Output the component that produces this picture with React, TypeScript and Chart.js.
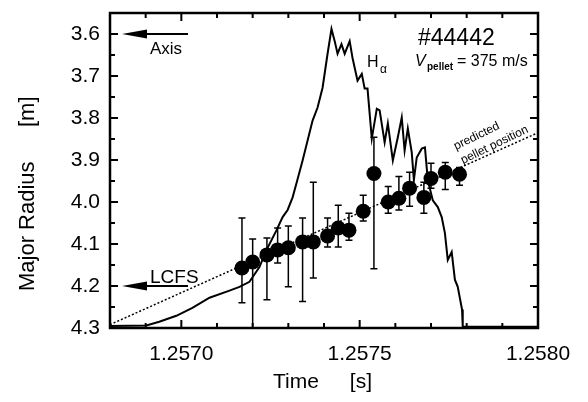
import { useEffect, useRef } from 'react';
import { Chart, registerables } from 'chart.js';

Chart.register(...registerables);

const FONT = '"Liberation Sans", Arial, Helvetica, sans-serif';

// H-alpha trace (time [s], plotted on the radius axis scale)
const hAlphaTime = [
  1.2568, 1.256902, 1.256938, 1.256986, 1.257031, 1.257079, 1.257135, 1.257163, 1.257191, 1.257219,
  1.257239, 1.257267, 1.257284, 1.257298, 1.257312, 1.257323, 1.25734, 1.257368, 1.257382, 1.257396,
  1.25741, 1.257421, 1.25743, 1.257438, 1.257449, 1.257458, 1.257472, 1.25748, 1.257494, 1.257506,
  1.257514, 1.257522, 1.257534, 1.257548, 1.257556, 1.25757, 1.257579, 1.257593, 1.257607, 1.257618,
  1.257626, 1.257635, 1.257646, 1.257652, 1.25766, 1.257674, 1.257683, 1.257691, 1.257705, 1.257719,
  1.25773, 1.257739, 1.257747, 1.257758, 1.257767, 1.257775, 1.257787, 1.257789, 1.258,
];
const hAlphaValue = [
  4.295, 4.294, 4.285, 4.271, 4.252, 4.228, 4.211, 4.202, 4.19, 4.155,
  4.114, 4.067, 4.036, 4.019, 3.989, 3.955, 3.901, 3.806, 3.775, 3.728,
  3.647, 3.588, 3.617, 3.647, 3.624, 3.647, 3.617, 3.657, 3.711, 3.695,
  3.73, 3.73, 3.849, 3.778, 3.782, 3.858, 3.813, 3.901, 3.846, 3.799,
  3.877, 3.825, 3.882, 3.948, 3.894, 3.873, 3.87, 3.948, 3.996, 4.012,
  4.036, 4.074, 4.138, 4.119, 4.185, 4.202, 4.256, 4.297, 4.297,
];

// Pellet position measurements
const pelletTime = [
  1.25717, 1.2572, 1.25724, 1.25727, 1.2573, 1.25734, 1.25737, 1.25741, 1.25744, 1.25747,
  1.25751, 1.25754, 1.25758, 1.25761, 1.25764, 1.25768, 1.2577, 1.25774, 1.25778,
];
const pelletRadius = [
  4.157, 4.143, 4.126, 4.114, 4.109, 4.095, 4.095, 4.081, 4.062, 4.067,
  4.022, 3.932, 4.0, 3.991, 3.967, 3.989, 3.944, 3.929, 3.934,
];
const pelletErrInner = [
  4.038, 4.088, 4.086, 4.062, 4.057, 4.038, 3.953, 4.038, 4.008, 4.027,
  3.984, 3.846, 3.963, 3.939, 3.929, 3.953, 3.908, 3.906, 3.918,
];
const pelletErrOuter = [
  4.24, 4.297, 4.233, 4.145, 4.202, 4.237, 4.181, 4.107, 4.107, 4.091,
  4.045, 4.159, 4.027, 4.019, 4.01, 4.027, 3.967, 3.97, 3.96,
];

// Predicted pellet position line
const predictedTime = [1.2568, 1.258];
const predictedRadius = [4.292, 3.835];

// Axis ticks
const xTickValues = [1.257, 1.2575, 1.258];
const xMinorValues = [1.2568, 1.2569, 1.2571, 1.2572, 1.2573, 1.2574, 1.2576, 1.2577, 1.2578, 1.2579];
const yTickValues = [3.6, 3.7, 3.8, 3.9, 4.0, 4.1, 4.2, 4.3];
const yMinorValues = [3.65, 3.75, 3.85, 3.95, 4.05, 4.15, 4.25];

const overlayPlugin = {
  id: 'overlay',
  afterDatasetsDraw(chart: any) {
    const { ctx, chartArea, scales } = chart;
    const xs = scales.x;
    const ys = scales.y;
    ctx.save();
    ctx.strokeStyle = '#000';
    ctx.fillStyle = '#000';

    // error bars
    ctx.lineWidth = 1.5;
    for (let i = 0; i < pelletTime.length; i++) {
      const px = xs.getPixelForValue(pelletTime[i]);
      const y1 = ys.getPixelForValue(pelletErrInner[i]);
      const y2 = Math.min(ys.getPixelForValue(pelletErrOuter[i]), chartArea.bottom);
      ctx.beginPath();
      ctx.moveTo(px, y1);
      ctx.lineTo(px, y2);
      ctx.moveTo(px - 3.5, y1);
      ctx.lineTo(px + 3.5, y1);
      if (y2 < chartArea.bottom - 2) {
        ctx.moveTo(px - 3.5, y2);
        ctx.lineTo(px + 3.5, y2);
      }
      ctx.stroke();
    }
    ctx.restore();
  },
  afterDraw(chart: any) {
    const { ctx, chartArea, scales } = chart;
    const { left, right, top, bottom } = chartArea;
    const xs = scales.x;
    const ys = scales.y;
    ctx.save();
    ctx.strokeStyle = '#000';
    ctx.fillStyle = '#000';

    // frame
    ctx.lineWidth = 2.5;
    ctx.strokeRect(left, top, right - left, bottom - top);

    // inward ticks
    ctx.lineWidth = 2;
    const xt = (v: number, len: number) => {
      const p = xs.getPixelForValue(v);
      ctx.beginPath();
      ctx.moveTo(p, bottom);
      ctx.lineTo(p, bottom - len);
      ctx.moveTo(p, top);
      ctx.lineTo(p, top + len);
      ctx.stroke();
    };
    const yt = (v: number, len: number) => {
      const p = ys.getPixelForValue(v);
      ctx.beginPath();
      ctx.moveTo(left, p);
      ctx.lineTo(left + len, p);
      ctx.moveTo(right, p);
      ctx.lineTo(right - len, p);
      ctx.stroke();
    };
    xTickValues.forEach((v) => xt(v, 8));
    xMinorValues.forEach((v) => xt(v, 5));
    yTickValues.forEach((v) => yt(v, 8));
    yMinorValues.forEach((v) => yt(v, 5));

    // arrows
    const arrow = (yVal: number, tipX: number, tailX: number) => {
      const py = ys.getPixelForValue(yVal);
      ctx.lineWidth = 2;
      ctx.beginPath();
      ctx.moveTo(tipX + 20, py);
      ctx.lineTo(tailX, py);
      ctx.stroke();
      ctx.beginPath();
      ctx.moveTo(tipX, py);
      ctx.lineTo(tipX + 25, py - 4.5);
      ctx.lineTo(tipX + 25, py + 4.5);
      ctx.closePath();
      ctx.fill();
    };
    arrow(3.6, 122, 188);
    arrow(4.2, 122, 188);

    ctx.textBaseline = 'alphabetic';
    ctx.textAlign = 'left';
    ctx.font = `17px ${FONT}`;
    ctx.fillText('Axis', 150, 54);
    ctx.font = `19px ${FONT}`;
    ctx.fillText('LCFS', 150, 283);

    // H alpha label
    ctx.font = `16px ${FONT}`;
    ctx.fillText('H', 367, 67);
    ctx.font = `12px ${FONT}`;
    ctx.fillText('α', 380, 73);

    // shot number and velocity
    ctx.font = `23px ${FONT}`;
    ctx.fillText('#44442', 418, 45);
    ctx.font = `italic 16px ${FONT}`;
    ctx.fillText('V', 415, 66);
    ctx.font = `bold 10px ${FONT}`;
    ctx.fillText('pellet', 427, 70);
    ctx.font = `16px ${FONT}`;
    ctx.fillText('= 375 m/s', 457, 66);

    // predicted pellet position
    ctx.font = `12px ${FONT}`;
    ctx.save();
    ctx.translate(456, 150);
    ctx.rotate((-26 * Math.PI) / 180);
    ctx.fillText('predicted', 0, 0);
    ctx.restore();
    ctx.save();
    ctx.translate(463, 164);
    ctx.rotate((-26 * Math.PI) / 180);
    ctx.fillText('pellet position', 0, 0);
    ctx.restore();

    // axis titles
    ctx.font = `21px ${FONT}`;
    ctx.fillText('Time', 273, 388);
    ctx.textAlign = 'right';
    ctx.fillText('[s]', 372, 388);
    ctx.save();
    ctx.translate(34, 0);
    ctx.rotate(-Math.PI / 2);
    ctx.textAlign = 'left';
    ctx.font = `22px ${FONT}`;
    ctx.fillText('Major Radius', -291, 0);
    ctx.fillText('[m]', -127, 0);
    ctx.restore();

    ctx.restore();
  },
};

export default function App() {
  const ref = useRef<HTMLCanvasElement | null>(null);
  useEffect(() => {
    if (!ref.current) return;
    const chart = new Chart(ref.current, {
      type: 'scatter',
      data: {
        datasets: [
          {
            type: 'scatter',
            data: pelletTime.map((t, i) => ({ x: t, y: pelletRadius[i] })),
            pointRadius: 7.5,
            pointBackgroundColor: '#000',
            pointBorderColor: '#000',
            pointBorderWidth: 0,
          } as any,
          {
            type: 'line',
            data: hAlphaTime.map((t, i) => ({ x: t, y: hAlphaValue[i] })),
            borderColor: '#000',
            borderWidth: 2,
            pointRadius: 0,
            tension: 0,
            fill: false,
          },
          {
            type: 'line',
            data: predictedTime.map((t, i) => ({ x: t, y: predictedRadius[i] })),
            borderColor: '#000',
            borderWidth: 1.5,
            borderDash: [2, 2],
            pointRadius: 0,
            fill: false,
          },
        ],
      },
      options: {
        responsive: false,
        animation: false,
        devicePixelRatio: 1,
        layout: { padding: { left: 0, right: 50, top: 13, bottom: 0 } },
        plugins: { legend: { display: false }, tooltip: { enabled: false } },
        scales: {
          x: {
            type: 'linear',
            min: 1.2568,
            max: 1.258,
            afterFit(s: any) {
              s.height = 74;
              s.paddingLeft = 0;
              s.paddingRight = 0;
            },
            afterBuildTicks(s: any) {
              s.ticks = xTickValues.map((v) => ({ value: v }));
            },
            ticks: {
              callback: (v: any) => Number(v).toFixed(4),
              font: { family: FONT, size: 21 },
              color: '#000',
              padding: 14,
              maxRotation: 0,
              autoSkip: false,
            },
            grid: { display: false, drawTicks: false },
            border: { display: false },
          },
          y: {
            type: 'linear',
            reverse: true,
            min: 3.55,
            max: 4.3,
            afterFit(s: any) {
              s.width = 110;
              s.paddingTop = 0;
              s.paddingBottom = 0;
            },
            afterBuildTicks(s: any) {
              s.ticks = yTickValues.map((v) => ({ value: v }));
            },
            ticks: {
              callback: (v: any) => Number(v).toFixed(1),
              font: { family: FONT, size: 21 },
              color: '#000',
              padding: 10,
              autoSkip: false,
            },
            grid: { display: false, drawTicks: false },
            border: { display: false },
          },
        },
      },
      plugins: [overlayPlugin],
    });
    return () => chart.destroy();
  }, []);
  return (
    <div style={{ position: 'fixed', left: 0, top: 0, width: 588, height: 402, background: '#fff' }}>
      <canvas ref={ref} width={588} height={402} style={{ display: 'block', width: 588, height: 402 }} />
    </div>
  );
}
